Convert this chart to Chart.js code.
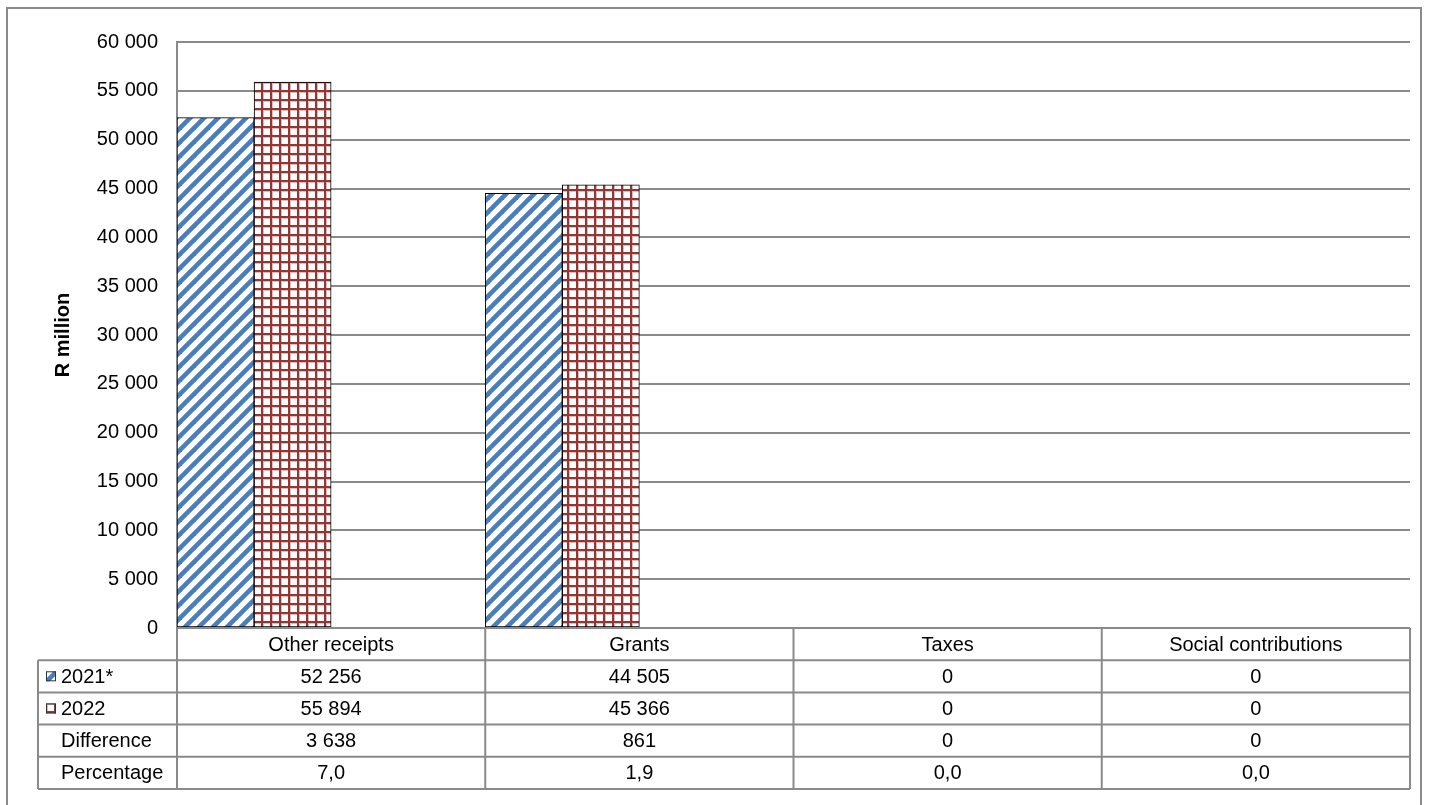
<!DOCTYPE html>
<html>
<head>
<meta charset="utf-8">
<script src="https://cdn.jsdelivr.net/npm/chart.js@4.4.1/dist/chart.umd.min.js"></script>
<style>
  body { margin: 0; background: #fff; }
  canvas { display: block; }
</style>
</head>
<body>
<canvas id="myChart" width="1429" height="805"></canvas>
<script>
//data
const categories = ["Other receipts", "Grants", "Taxes", "Social contributions"];
const values2021 = [52256, 44505, 0, 0];
const values2022 = [55894, 45366, 0, 0];
const difference = [3638, 861, 0, 0];
const percentage = [7.0, 1.9, 0.0, 0.0];
const rowLabels = ["2021*", "2022", "Difference", "Percentage"];
const yTickValues = [0, 5000, 10000, 15000, 20000, 25000, 30000, 35000, 40000, 45000, 50000, 55000, 60000];

const FONT = "'Liberation Sans', Arial, sans-serif";
const GRID = "#8a8a8a";

function fmtThousands(v) {
  return String(v).replace(/\B(?=(\d{3})+(?!\d))/g, " ");
}
function fmtPct(v) {
  return v.toFixed(1).replace(".", ",");
}

// fill patterns like the excel ones
function makeStripes() {
  const c = document.createElement("canvas");
  c.width = 14; c.height = 14;
  const g = c.getContext("2d");
  g.fillStyle = "#fff";
  g.fillRect(0, 0, 14, 14);
  g.strokeStyle = "#4a7ebb";
  g.lineWidth = 4.6;
  for (let k = -1; k <= 1; k++) {
    g.beginPath();
    g.moveTo(-2 + k * 14, 16);
    g.lineTo(16 + k * 14, -2);
    g.stroke();
  }
  return g.createPattern(c, "repeat");
}
function makeGrid() {
  const c = document.createElement("canvas");
  c.width = 9; c.height = 9;
  const g = c.getContext("2d");
  g.fillStyle = "#fff";
  g.fillRect(0, 0, 9, 9);
  g.fillStyle = "#e2b9b8";
  g.fillRect(0, 0, 9, 3);
  g.fillRect(0, 0, 3, 9);
  g.fillStyle = "#943634";
  g.fillRect(0, 0, 9, 2);
  g.fillRect(0, 0, 2, 9);
  return g.createPattern(c, "repeat");
}
const bluePattern = makeStripes();
const redPattern = makeGrid();

const tablePlugin = {
  id: "dataTable",
  afterDraw(chart) {
    const ctx = chart.ctx;
    const area = chart.chartArea;
    const n = categories.length;
    const colW = (area.right - area.left) / n;
    const top = area.bottom;
    const rowH = 32.2;
    const labelLeft = 38;
    const bottom = top + rowH * 5;
    const rows = [values2021.map(fmtThousands), values2022.map(fmtThousands), difference.map(fmtThousands), percentage.map(fmtPct)];

    ctx.save();
    ctx.strokeStyle = GRID;
    ctx.lineWidth = 2;
    ctx.beginPath();
    ctx.moveTo(area.left, top);
    ctx.lineTo(area.right, top);
    for (let r = 1; r <= 5; r++) {
      ctx.moveTo(labelLeft, top + r * rowH);
      ctx.lineTo(area.right, top + r * rowH);
    }
    ctx.moveTo(labelLeft, top + rowH);
    ctx.lineTo(labelLeft, bottom);
    for (let i = 0; i <= n; i++) {
      const x = area.left + i * colW;
      ctx.moveTo(x, top);
      ctx.lineTo(x, bottom);
    }
    ctx.stroke();

    ctx.fillStyle = "#000";
    ctx.font = "20px " + FONT;
    ctx.textAlign = "center";
    ctx.textBaseline = "middle";
    for (let i = 0; i < n; i++) {
      const cx = area.left + (i + 0.5) * colW;
      ctx.fillText(categories[i], cx, top + rowH / 2 + 1);
      for (let r = 0; r < rows.length; r++) {
        ctx.fillText(rows[r][i], cx, top + (r + 1.5) * rowH + 1);
      }
    }
    ctx.textAlign = "left";
    for (let r = 0; r < rowLabels.length; r++) {
      ctx.fillText(rowLabels[r], 61, top + (r + 1.5) * rowH + 1);
    }

    // legend keys
    const keys = [bluePattern, redPattern];
    keys.forEach((p, r) => {
      const ky = top + (r + 1.5) * rowH - 5;
      ctx.fillStyle = p;
      ctx.fillRect(46, ky, 10, 10);
      ctx.strokeStyle = "#333";
      ctx.lineWidth = 1;
      ctx.strokeRect(46.5, ky + 0.5, 9, 9);
    });

    // axis title
    ctx.save();
    ctx.translate(63, (area.top + area.bottom) / 2);
    ctx.rotate(-Math.PI / 2);
    ctx.textAlign = "center";
    ctx.textBaseline = "middle";
    ctx.fillStyle = "#000";
    ctx.font = "bold 20px " + FONT;
    ctx.fillText("R million", 0, 0);
    ctx.restore();

    // outer frame
    ctx.strokeStyle = GRID;
    ctx.lineWidth = 2;
    ctx.strokeRect(7, 8, 1414, 802);
    ctx.restore();
  }
};

const barBorder = (c) => (c.raw ? 1 : 0);

const data = {
  labels: categories,
  datasets: [
    { label: "2021*", data: values2021, backgroundColor: bluePattern, borderColor: "#000", borderWidth: barBorder, borderSkipped: false },
    { label: "2022", data: values2022, backgroundColor: redPattern, borderColor: "#000", borderWidth: barBorder, borderSkipped: false },
    { label: "Difference", data: difference, backgroundColor: "rgba(0,0,0,0)", borderWidth: 0 },
    { label: "Percentage", data: percentage, backgroundColor: "rgba(0,0,0,0)", borderWidth: 0 },
  ],
};

const config = {
  type: "bar",
  data: data,
  options: {
    responsive: false,
    animation: false,
    devicePixelRatio: 1,
    layout: { padding: { top: 42, bottom: 177, left: 0, right: 19 } },
    datasets: { bar: { categoryPercentage: 1, barPercentage: 1 } },
    scales: {
      x: { display: false, offset: true, grid: { display: false } },
      y: {
        min: 0,
        max: 60000,
        afterBuildTicks: (s) => { s.ticks = yTickValues.map((v) => ({ value: v })); },
        afterFit: (s) => { s.width = 177; s.paddingTop = 0; s.paddingBottom = 0; },
        ticks: { color: "#000", font: { family: FONT, size: 20 }, padding: 19, callback: (v) => fmtThousands(v) },
        grid: { color: GRID, lineWidth: 2, drawTicks: false },
        border: { color: GRID, width: 2 },
      },
    },
    plugins: {
      legend: { display: false },
      tooltip: { enabled: false },
    },
  },
  plugins: [tablePlugin],
};

const myChart = new Chart(document.getElementById("myChart"), config);
</script>
</body>
</html>
